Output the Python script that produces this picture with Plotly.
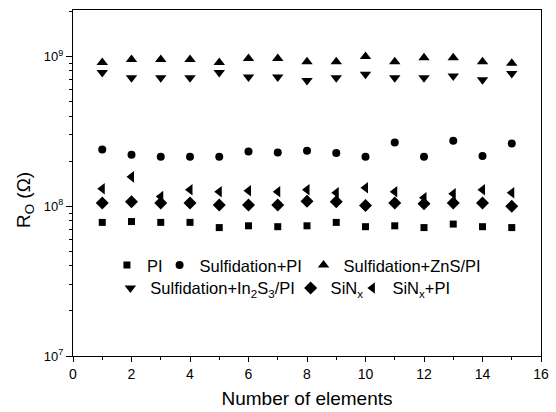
import plotly.graph_objects as go

# Number of elements on the sample
elements = list(range(1, 16))

# Resistance R_O (ohm) for each film stack
r_pi = [7.8e7, 7.9e7, 7.8e7, 7.8e7, 7.2e7, 7.4e7, 7.3e7, 7.4e7, 7.8e7, 7.3e7, 7.4e7, 7.2e7, 7.6e7, 7.3e7, 7.2e7]
r_sulf_pi = [2.39e8, 2.21e8, 2.14e8, 2.14e8, 2.14e8, 2.32e8, 2.28e8, 2.35e8, 2.27e8, 2.14e8, 2.66e8, 2.14e8, 2.74e8, 2.16e8, 2.62e8]
r_sulf_zns = [9.1e8, 9.55e8, 9.55e8, 9.55e8, 9.1e8, 9.7e8, 9.7e8, 9.2e8, 9.2e8, 1.0e9, 9.2e8, 9.8e8, 9.8e8, 9.2e8, 9.0e8]
r_sulf_in2s3 = [7.8e8, 7.2e8, 7.2e8, 7.2e8, 7.8e8, 7.3e8, 7.3e8, 6.9e8, 7.2e8, 7.6e8, 7.2e8, 7.2e8, 7.4e8, 7.0e8, 7.7e8]
r_sinx = [1.05e8, 1.07e8, 1.05e8, 1.05e8, 1.02e8, 1.02e8, 1.02e8, 1.08e8, 1.07e8, 1.01e8, 1.05e8, 1.04e8, 1.05e8, 1.05e8, 1.0e8]
r_sinx_pi = [1.31e8, 1.57e8, 1.16e8, 1.29e8, 1.25e8, 1.27e8, 1.25e8, 1.29e8, 1.23e8, 1.33e8, 1.25e8, 1.14e8, 1.21e8, 1.29e8, 1.23e8]

y_tick_vals = [1e7, 1e8, 1e9]
y_tick_text = ["10<sup>7</sup>", "10<sup>8</sup>", "10<sup>9</sup>"]
y_minor_vals = [m * 10 ** e for e in (7, 8) for m in range(2, 10)] + [2e9]

FONT = "Liberation Sans, Arial, sans-serif"

# name, values, symbol, size, legend slot (x, y in plot-area fraction)
series = [
    ("PI", r_pi, "square", 7, (0.0725, 0.262)),
    ("Sulfidation+PI", r_sulf_pi, "circle", 8, (0.185, 0.262)),
    ("Sulfidation+ZnS/PI", r_sulf_zns, "triangle-up", 10, (0.4926, 0.262)),
    ("Sulfidation+In<sub>2</sub>S<sub>3</sub>/PI", r_sulf_in2s3, "triangle-down", 10, (0.0798, 0.196)),
    ("SiN<sub>x</sub>", r_sinx, "diamond", 10, (0.465, 0.196)),
    ("SiN<sub>x</sub>+PI", r_sinx_pi, "triangle-left", 10, (0.597, 0.196)),
]

fig = go.Figure()
legend_layouts = {}
for i, (name, vals, sym, size, (lx, ly)) in enumerate(series):
    key = "legend" if i == 0 else f"legend{i + 1}"
    fig.add_trace(go.Scatter(
        x=elements, y=vals, mode="markers", name=name,
        marker=dict(symbol=sym, size=size, color="black"),
        legend=key,
    ))
    legend_layouts[key] = dict(
        x=lx, y=ly, orientation="h", xanchor="left", yanchor="middle",
        bgcolor="rgba(0,0,0,0)", borderwidth=0,
        font=dict(family=FONT, size=16.5, color="black"),
        itemwidth=30, itemclick=False, itemdoubleclick=False,
    )

fig.update_layout(
    width=556, height=412,
    margin=dict(l=73, r=7, t=10, b=56),
    paper_bgcolor="white", plot_bgcolor="white",
    font=dict(family=FONT, color="black"),
    showlegend=True,
    **legend_layouts,
    xaxis=dict(
        range=[0, 16], tickmode="linear", tick0=0, dtick=2,
        ticks="outside", ticklen=5, tickwidth=1, tickcolor="black",
        minor=dict(ticks="outside", ticklen=3, dtick=1, tick0=0, tickcolor="black"),
        showline=True, linecolor="black", linewidth=1, mirror=True,
        showgrid=False, zeroline=False, ticklabeloverflow="allow",
        tickfont=dict(family=FONT, size=14),
        title=dict(text="Number of elements", font=dict(family=FONT, size=19), standoff=10),
    ),
    yaxis=dict(
        type="log", range=[7, 9.31],
        tickmode="array", tickvals=y_tick_vals, ticktext=y_tick_text,
        ticks="outside", ticklen=6, tickwidth=1, tickcolor="black",
        minor=dict(ticks="outside", ticklen=3, tickvals=y_minor_vals, tickcolor="black"),
        showline=True, linecolor="black", linewidth=1, mirror=True,
        showgrid=False, zeroline=False,
        tickfont=dict(family=FONT, size=13),
    ),
    annotations=[dict(
        text="R<sub>O</sub> (Ω)", textangle=-90,
        xref="paper", yref="paper", x=-0.101, y=0.45,
        xanchor="center", yanchor="middle", showarrow=False,
        font=dict(family=FONT, size=19, color="black"),
    )],
)

fig.write_html("out.html")
